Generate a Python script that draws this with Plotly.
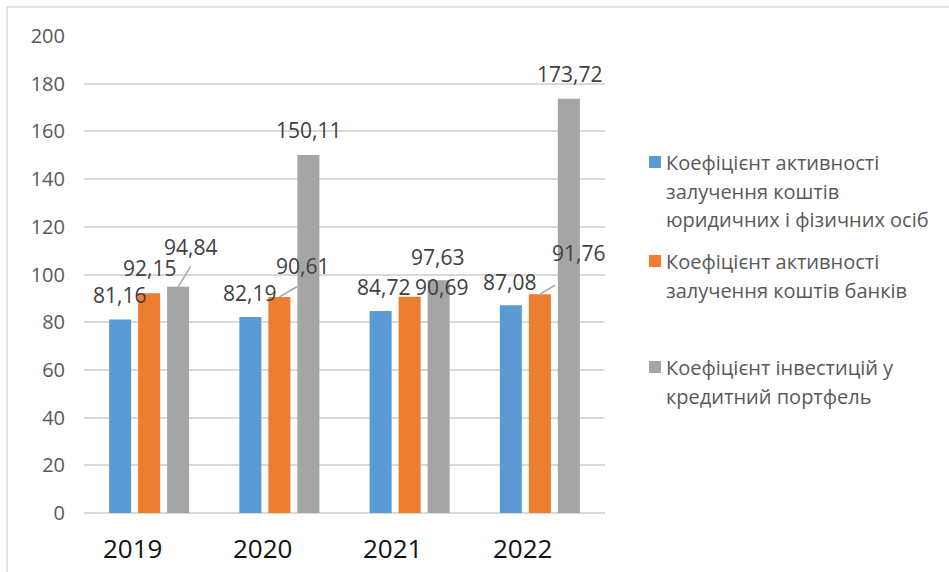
import plotly.graph_objects as go

# Data
years = ["2019", "2020", "2021", "2022"]
series_names = [
    "Коефіцієнт активності залучення коштів юридичних і фізичних осіб",
    "Коефіцієнт активності залучення коштів банків",
    "Коефіцієнт інвестицій у кредитний портфель",
]
legal_natural = [81.16, 82.19, 84.72, 87.08]
banks = [92.15, 90.61, 90.69, 91.76]
credit_portfolio = [94.84, 150.11, 97.63, 173.72]

# Legend text, broken into lines
legend_lines = [
    ["Коефіцієнт активності", "залучення коштів", "юридичних і фізичних осіб"],
    ["Коефіцієнт активності", "залучення коштів банків"],
    ["Коефіцієнт інвестицій у", "кредитний портфель"],
]

colors = ["#5B9BD5", "#ED7D31", "#A5A5A5"]
values = [legal_natural, banks, credit_portfolio]

# Plot geometry (pixels)
W, H = 949, 572
L, R, T, B = 84, 344, 36, 59
PW, PH = W - L - R, H - T - B


def px_x(p):
    return (p - L) / PW


def px_y(p):
    return (H - B - p) / PH


fig = go.Figure()
for name, vals, col in zip(series_names, values, colors):
    fig.add_trace(go.Bar(
        x=years, y=vals, name=name, marker=dict(color=col, line=dict(width=0)),
        showlegend=False, hoverinfo="x+y",
    ))

# Data-label placement: (xshift, yshift) per series / year, in pixels
label_offsets = [
    [(-1, 24), (-1, 24), (3, 24), (-1, 23)],
    [(0, 25), (23, 31), (31.5, 10), (38.5, 41)],
    [(12.5, 40), (0, 25), (-1, 23), (1, 25)],
]
# Leader lines: (series, year index, dx, dy) from bar top
leaders = [(2, 0, 13.5, -22), (1, 1, 19, -11), (1, 3, 17, -10)]

slot = 1 - 0.332  # group width in category units
step = slot / 3
annotations = []
for s, vals in enumerate(values):
    off = (s - 1) * step
    for i, v in enumerate(vals):
        dx, dy = label_offsets[s][i]
        annotations.append(dict(
            x=i + off, y=v, xref="x", yref="y",
            text=f"{v:.2f}".replace(".", ","), showarrow=False,
            xanchor="center", yanchor="middle", xshift=dx, yshift=dy,
            font=dict(family="Open Sans", size=21, color="#404040"),
        ))

for s, i, dx, dy in leaders:
    annotations.append(dict(
        x=i + (s - 1) * step, y=values[s][i], xref="x", yref="y",
        text="", showarrow=True, arrowhead=0, arrowwidth=1.5,
        arrowcolor="#A6A6A6", ax=dx, ay=dy, axref="pixel", ayref="pixel",
        standoff=0, startstandoff=0,
    ))

# Year labels under the groups
for i, yr in enumerate(years):
    annotations.append(dict(
        x=i, y=px_y(548), xref="x", yref="paper", text=yr, showarrow=False,
        xshift=-17, xanchor="center", yanchor="middle",
        font=dict(family="Open Sans", size=26, color="#111111"),
    ))

# Legend: colored squares and text lines
shapes = []
legend_line_y = [[162, 191, 220], [261, 290], [367, 396]]
for col, lines, ys in zip(colors, legend_lines, legend_line_y):
    sq_y = ys[0]
    shapes.append(dict(
        type="rect", xref="paper", yref="paper",
        x0=px_x(649), x1=px_x(661), y0=px_y(sq_y + 6), y1=px_y(sq_y - 6),
        fillcolor=col, line=dict(width=0),
    ))
    for txt, yy in zip(lines, ys):
        annotations.append(dict(
            x=px_x(664), y=px_y(yy), xref="paper", yref="paper", text=txt,
            showarrow=False, xanchor="left", yanchor="middle",
            font=dict(family="Open Sans", size=20, color="#595959"),
        ))

# Chart border
shapes.append(dict(
    type="rect", xref="paper", yref="paper", layer="below",
    x0=px_x(7), x1=px_x(970), y0=px_y(600), y1=px_y(7),
    line=dict(color="#D9D9D9", width=1.5), fillcolor="rgba(0,0,0,0)",
))

fig.update_layout(
    width=W, height=H,
    margin=dict(l=L, r=R, t=T, b=B, pad=0),
    paper_bgcolor="white", plot_bgcolor="white",
    barmode="group", bargap=0.332, bargroupgap=0.24,
    annotations=annotations, shapes=shapes,
    xaxis=dict(
        type="category", showticklabels=False, showgrid=False, ticks="",
        showline=False, zeroline=False, range=[-0.5, 3.5],
    ),
    yaxis=dict(
        range=[0, 200], dtick=20, showgrid=True, gridcolor="#D9D9D9",
        gridwidth=1.5, zeroline=True, zerolinecolor="#D9D9D9", zerolinewidth=2,
        showline=False, ticks="", ticklabelstandoff=18,
        tickfont=dict(family="Open Sans", size=20, color="#595959"),
    ),
    font=dict(family="Open Sans"),
)

fig.write_html("out.html")
